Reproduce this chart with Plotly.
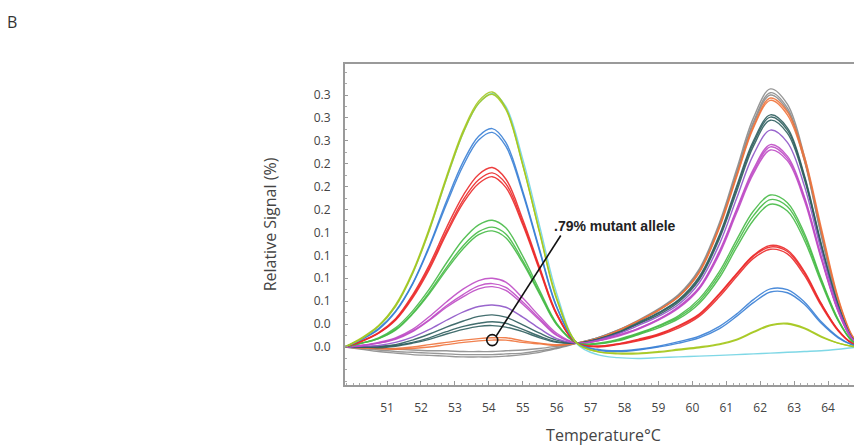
import plotly.graph_objects as go

# Temperature grid (deg C)
temps = [49.75, 50.25, 50.75, 51.25, 51.75, 52.25, 52.75, 53.25, 53.7, 54.1, 54.5, 55.0, 55.5, 56.0, 56.6,
         57.2, 57.8, 58.4, 59.0, 59.6, 60.2, 60.8, 61.3, 61.8, 62.3, 62.8, 63.3, 63.8, 64.3, 64.7, 65.0]

gray_a = [0.000, -0.002, -0.004, -0.006, -0.007, -0.008, -0.009, -0.010, -0.010, -0.010, -0.009, -0.008, -0.005, -0.001, 0.005,
          0.012, 0.022, 0.035, 0.050, 0.069, 0.102, 0.163, 0.232, 0.300, 0.338, 0.318, 0.250, 0.150, 0.060, 0.014, 0.000]
gray_b = [0.000, -0.001, -0.002, -0.003, -0.004, -0.005, -0.005, -0.006, -0.006, -0.006, -0.005, -0.004, -0.002, 0.001, 0.005,
          0.012, 0.022, 0.034, 0.049, 0.068, 0.100, 0.160, 0.228, 0.295, 0.333, 0.313, 0.246, 0.147, 0.059, 0.014, 0.000]
gray_c = [0.000, -0.003, -0.006, -0.008, -0.010, -0.011, -0.012, -0.013, -0.013, -0.013, -0.012, -0.010, -0.007, -0.002, 0.005,
          0.012, 0.021, 0.034, 0.048, 0.067, 0.099, 0.158, 0.226, 0.292, 0.330, 0.310, 0.244, 0.146, 0.058, 0.014, 0.000]
orange_a = [0.000, -0.001, -0.002, -0.002, 0.000, 0.003, 0.006, 0.009, 0.011, 0.012, 0.012, 0.008, 0.005, 0.003, 0.005,
            0.011, 0.021, 0.034, 0.048, 0.066, 0.098, 0.158, 0.224, 0.289, 0.326, 0.308, 0.250, 0.156, 0.064, 0.016, 0.000]
orange_b = [0.000, -0.001, -0.002, -0.003, -0.002, 0.000, 0.003, 0.006, 0.008, 0.009, 0.009, 0.006, 0.004, 0.002, 0.005,
            0.011, 0.021, 0.034, 0.048, 0.066, 0.097, 0.156, 0.222, 0.287, 0.323, 0.304, 0.245, 0.152, 0.062, 0.015, 0.000]
teal_a = [0.000, 0.000, 0.001, 0.003, 0.009, 0.017, 0.026, 0.034, 0.040, 0.042, 0.039, 0.029, 0.018, 0.009, 0.005,
          0.010, 0.018, 0.030, 0.042, 0.059, 0.088, 0.142, 0.203, 0.263, 0.297, 0.280, 0.220, 0.131, 0.053, 0.012, 0.000]
teal_b = [0.000, 0.000, 0.000, 0.002, 0.006, 0.012, 0.020, 0.027, 0.031, 0.033, 0.031, 0.023, 0.014, 0.007, 0.005,
          0.010, 0.019, 0.031, 0.044, 0.061, 0.090, 0.145, 0.207, 0.267, 0.301, 0.284, 0.223, 0.133, 0.054, 0.012, 0.000]
teal_c = [0.000, 0.000, -0.001, 0.001, 0.005, 0.010, 0.017, 0.023, 0.027, 0.028, 0.026, 0.020, 0.012, 0.006, 0.005,
          0.010, 0.019, 0.032, 0.045, 0.062, 0.092, 0.147, 0.210, 0.270, 0.304, 0.287, 0.225, 0.135, 0.054, 0.012, 0.000]
violet_a = [0.000, 0.001, 0.002, 0.006, 0.013, 0.023, 0.035, 0.046, 0.053, 0.055, 0.052, 0.039, 0.024, 0.011, 0.005,
            0.009, 0.017, 0.028, 0.040, 0.056, 0.084, 0.135, 0.194, 0.252, 0.284, 0.268, 0.211, 0.126, 0.051, 0.012, 0.000]
magenta_a = [0.000, 0.002, 0.006, 0.012, 0.023, 0.040, 0.059, 0.076, 0.087, 0.090, 0.085, 0.064, 0.040, 0.018, 0.005,
             0.008, 0.014, 0.023, 0.035, 0.051, 0.076, 0.122, 0.175, 0.227, 0.258, 0.244, 0.192, 0.115, 0.046, 0.010, 0.000]
magenta_b = [0.000, 0.002, 0.005, 0.011, 0.021, 0.036, 0.054, 0.069, 0.080, 0.083, 0.078, 0.059, 0.037, 0.016, 0.005,
             0.008, 0.015, 0.024, 0.036, 0.053, 0.078, 0.126, 0.180, 0.233, 0.265, 0.250, 0.197, 0.118, 0.047, 0.011, 0.000]
magenta_c = [0.000, 0.002, 0.005, 0.010, 0.020, 0.035, 0.052, 0.066, 0.076, 0.079, 0.074, 0.056, 0.035, 0.015, 0.005,
             0.008, 0.015, 0.024, 0.036, 0.052, 0.077, 0.124, 0.178, 0.230, 0.262, 0.247, 0.195, 0.117, 0.047, 0.011, 0.000]
green_a = [0.000, 0.005, 0.012, 0.025, 0.047, 0.076, 0.110, 0.141, 0.160, 0.166, 0.156, 0.119, 0.074, 0.031, 0.005,
           0.004, 0.008, 0.016, 0.025, 0.037, 0.057, 0.091, 0.130, 0.166, 0.187, 0.178, 0.140, 0.084, 0.034, 0.008, 0.000]
green_b = [0.000, 0.005, 0.011, 0.023, 0.044, 0.072, 0.104, 0.133, 0.151, 0.157, 0.148, 0.113, 0.071, 0.030, 0.005,
           0.004, 0.009, 0.017, 0.027, 0.039, 0.060, 0.095, 0.135, 0.172, 0.193, 0.184, 0.145, 0.087, 0.035, 0.008, 0.000]
green_c = [0.000, 0.005, 0.011, 0.022, 0.043, 0.070, 0.101, 0.129, 0.147, 0.152, 0.143, 0.110, 0.069, 0.029, 0.005,
           0.005, 0.010, 0.018, 0.028, 0.041, 0.063, 0.099, 0.140, 0.178, 0.199, 0.189, 0.149, 0.089, 0.036, 0.008, 0.000]
red_a = [0.000, 0.008, 0.019, 0.037, 0.068, 0.108, 0.156, 0.199, 0.226, 0.235, 0.220, 0.167, 0.104, 0.044, 0.005,
         0.000, 0.003, 0.008, 0.015, 0.025, 0.040, 0.066, 0.092, 0.116, 0.128, 0.122, 0.094, 0.054, 0.021, 0.005, 0.000]
red_b = [0.000, 0.008, 0.018, 0.036, 0.066, 0.105, 0.151, 0.193, 0.219, 0.228, 0.214, 0.163, 0.102, 0.043, 0.005,
         0.001, 0.004, 0.009, 0.016, 0.027, 0.042, 0.069, 0.095, 0.119, 0.131, 0.125, 0.097, 0.056, 0.022, 0.005, 0.000]
red_c = [0.000, 0.007, 0.018, 0.035, 0.064, 0.102, 0.148, 0.189, 0.214, 0.223, 0.209, 0.160, 0.100, 0.042, 0.005,
         0.001, 0.004, 0.010, 0.017, 0.028, 0.043, 0.070, 0.096, 0.120, 0.133, 0.127, 0.099, 0.057, 0.022, 0.005, 0.000]
blue_a = [0.000, 0.010, 0.024, 0.047, 0.083, 0.133, 0.191, 0.243, 0.276, 0.286, 0.268, 0.204, 0.127, 0.053, 0.005,
          -0.004, -0.006, -0.004, 0.000, 0.005, 0.012, 0.024, 0.040, 0.058, 0.072, 0.071, 0.056, 0.031, 0.012, 0.003, 0.000]
blue_b = [0.000, 0.010, 0.023, 0.046, 0.082, 0.131, 0.187, 0.238, 0.271, 0.281, 0.263, 0.201, 0.125, 0.052, 0.005,
          -0.003, -0.005, -0.003, 0.001, 0.007, 0.014, 0.027, 0.043, 0.062, 0.076, 0.075, 0.059, 0.033, 0.013, 0.003, 0.000]
cyan_a = [0.000, 0.011, 0.027, 0.054, 0.096, 0.154, 0.220, 0.281, 0.319, 0.332, 0.315, 0.246, 0.158, 0.070, 0.004,
          -0.010, -0.014, -0.015, -0.014, -0.013, -0.012, -0.011, -0.010, -0.009, -0.008, -0.007, -0.006, -0.005, -0.003, -0.001, 0.000]
yg_a = [0.000, 0.012, 0.028, 0.055, 0.098, 0.156, 0.223, 0.284, 0.322, 0.334, 0.313, 0.239, 0.149, 0.062, 0.005,
        -0.006, -0.009, -0.009, -0.007, -0.004, -0.001, 0.003, 0.009, 0.019, 0.028, 0.030, 0.024, 0.013, 0.005, 0.001, 0.000]
yg_b = [0.000, 0.011, 0.027, 0.053, 0.096, 0.153, 0.220, 0.281, 0.319, 0.331, 0.311, 0.238, 0.150, 0.064, 0.005,
        -0.006, -0.008, -0.008, -0.006, -0.003, 0.000, 0.004, 0.010, 0.020, 0.029, 0.031, 0.025, 0.014, 0.005, 0.001, 0.000]

groups = [
    ("#8c8c8c", [gray_a, gray_b, gray_c]),
    ("#f0743c", [orange_a, orange_b]),
    ("#2f5f5f", [teal_a, teal_b, teal_c]),
    ("#8e55c8", [violet_a]),
    ("#bf4cc6", [magenta_a, magenta_b, magenta_c]),
    ("#46bb46", [green_a, green_b, green_c]),
    ("#ec2a2a", [red_a, red_b, red_c]),
    ("#3a80d6", [blue_a, blue_b]),
    ("#72d4e4", [cyan_a]),
    ("#a6c81e", [yg_a, yg_b]),
]

y_tickvals = [0.0, 0.03, 0.06, 0.09, 0.12, 0.15, 0.18, 0.21, 0.24, 0.27, 0.30, 0.33]
y_ticktext = ["0.0", "0.0", "0.1", "0.1", "0.1", "0.1", "0.2", "0.2", "0.2", "0.3", "0.3", "0.3"]
x_tickvals = list(range(51, 65))

annot_text = ".79% mutant allele"
circle_pt = (54.1, 0.009)
pointer_from = (54.22, 0.0145)
pointer_to = (56.12, 0.146)
label_pos = (55.85, 0.158)

# page body adds an 8px offset; figure is sized/placed to compensate
W, H = 854, 438
ML, MT, MB, MR = 337, 56, 61, 0
PW, PH = W - ML - MR, H - MT - MB

fig = go.Figure()
for color, curves in groups:
    for c in curves:
        fig.add_trace(go.Scatter(x=temps, y=c, mode="lines",
                                 line=dict(color=color, width=1.4, shape="spline", smoothing=1.0),
                                 opacity=0.9, showlegend=False, hoverinfo="skip"))

fig.add_trace(go.Scatter(x=[circle_pt[0]], y=[circle_pt[1]], mode="markers",
                         marker=dict(symbol="circle-open", size=11, color="#111", line=dict(width=1.6)),
                         showlegend=False, hoverinfo="skip"))

fig.add_shape(type="line", xref="x", yref="y",
              x0=pointer_from[0], y0=pointer_from[1], x1=pointer_to[0], y1=pointer_to[1],
              line=dict(color="#111", width=1.6))

fig.add_annotation(x=label_pos[0], y=label_pos[1], xref="x", yref="y", text="<b>" + annot_text + "</b>",
                   showarrow=False, xanchor="left", yanchor="middle",
                   font=dict(family="Liberation Sans, Arial", size=14, color="#222"))

fig.add_annotation(xref="paper", yref="paper", x=(4 - ML) / PW, y=1 + (MT - 14) / PH, text="B",
                   showarrow=False, xanchor="center", yanchor="middle",
                   font=dict(family="Open Sans", size=16, color="#333"))

axis_font = dict(family="Open Sans, Noto Sans", size=12, color="#444")

fig.update_xaxes(range=[49.76, 65.0], tickvals=x_tickvals, ticks="inside", ticklen=4, tickcolor="#999",
                 minor=dict(dtick=0.2, tick0=0, ticks="inside", ticklen=2, tickcolor="#aaa"),
                 showline=True, mirror=True, linecolor="#9a9a9a", linewidth=2,
                 showgrid=False, zeroline=False, tickfont=axis_font, ticklabelstandoff=11,
                 title=dict(text="Temperature°C", font=dict(family="Open Sans, Noto Sans", size=16, color="#444"),
                            standoff=16),
                 automargin=False)
fig.update_yaxes(range=[-0.0498, 0.3706], tickvals=y_tickvals, ticktext=y_ticktext, ticks="inside",
                 ticklen=3, tickcolor="#999",
                 minor=dict(dtick=0.015, tick0=0, ticks="inside", ticklen=2, tickcolor="#aaa"),
                 showline=True, mirror=False, linecolor="#9a9a9a", linewidth=2,
                 showgrid=False, zeroline=False, tickfont=axis_font, ticklabelstandoff=10,
                 title=dict(text="Relative Signal (%)", font=dict(family="Open Sans, Noto Sans", size=16, color="#444"),
                            standoff=33),
                 automargin=False)

fig.update_layout(width=W, height=H, margin=dict(l=ML, r=MR, t=MT, b=MB),
                  paper_bgcolor="white", plot_bgcolor="white")

fig.write_html("out.html")
